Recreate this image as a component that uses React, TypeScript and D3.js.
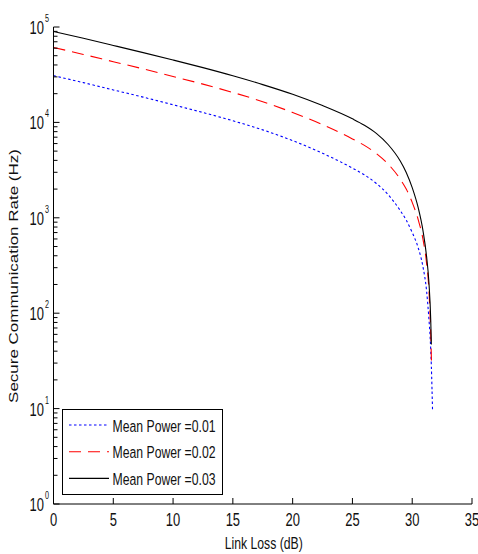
import React from "react";
import * as d3 from "d3";

// link loss (dB) samples and secure rate (Hz)
const blueX = [0, 2.5, 5, 7.5, 10, 12.5, 15, 17.5, 20, 22.5, 25, 26, 27, 28, 29, 29.5, 30, 30.5, 30.9, 31.2, 31.4, 31.5, 31.6, 31.7];
const blueY = [30900, 26100, 21900, 18400, 15300, 12700, 10400, 8350, 6440, 4750, 3320, 2820, 2290, 1740, 1190, 945, 701, 485, 306, 172, 86, 56, 28, 9.5];

const redX = [0, 2.5, 5, 7.5, 10, 12.5, 15, 17.5, 20, 22.5, 25, 26, 27, 28, 29, 29.5, 30, 30.5, 30.9, 31.2, 31.4, 31.55, 31.62];
const redY = [61100, 51600, 43300, 36400, 30300, 25200, 20600, 16500, 12700, 9470, 6710, 5740, 4720, 3640, 2540, 2000, 1450, 956, 596, 335, 172, 60, 28];

const blackX = [0, 2.5, 5, 7.5, 10, 12.5, 15, 17.5, 20, 22.5, 25, 26, 27, 28, 29, 29.5, 30, 30.5, 30.9, 31.2, 31.4, 31.55, 31.6];
const blackY = [89900, 76100, 64100, 53900, 45100, 37500, 30800, 24900, 19700, 15000, 10900, 9340, 7680, 5830, 3940, 2990, 2070, 1275, 734, 394, 207, 84, 47];

const seriesNames = ["Mean Power =0.01", "Mean Power =0.02", "Mean Power =0.03"];
const xTicks = [0, 5, 10, 15, 20, 25, 30, 35];
const yExponents = [0, 1, 2, 3, 4, 5];

const FONT = "'Liberation Sans', Arial, sans-serif";
const SX = 0.72; // the figure's text is squeezed horizontally

const App = () => {
  const left = 53.5;
  const right = 472;
  const top = 27;
  const bottom = 504;

  const xScale = d3.scaleLinear().domain([0, 35]).range([left, right]);
  const yScale = d3.scaleLog().domain([1, 1e5]).range([bottom, top]);

  const line = d3
    .line<[number, number]>()
    .x((d) => xScale(d[0]))
    .y((d) => yScale(d[1]))
    .curve(d3.curveMonotoneX);

  const series = [
    { xs: blueX, ys: blueY, color: "#0000ff", dash: "2.5,2.5" },
    { xs: redX, ys: redY, color: "#ff0000", dash: "12,7" },
    { xs: blackX, ys: blackY, color: "#000000", dash: null },
  ];

  const minorTicks: number[] = [];
  yExponents.slice(0, -1).forEach((e) => {
    for (let m = 2; m <= 9; m++) minorTicks.push(m * Math.pow(10, e));
  });

  const legend = { x: 62.5, y: 409.5, w: 160, h: 85 };

  return (
    <div style={{ position: "absolute", left: 0, top: 0 }}>
      <svg width={478} height={554} style={{ display: "block", background: "#fff" }}>
        {series.map((s, i) => (
          <path
            key={i}
            d={line(s.xs.map((x, j) => [x, s.ys[j]] as [number, number])) || ""}
            fill="none"
            stroke={s.color}
            strokeWidth={1.1}
            strokeDasharray={s.dash || undefined}
          />
        ))}

        {/* axes */}
        <line x1={left} y1={top} x2={left} y2={bottom} stroke="#000" />
        <line x1={left} y1={bottom} x2={right} y2={bottom} stroke="#000" />
        {xTicks.map((t) => (
          <g key={t}>
            <line x1={xScale(t)} y1={bottom} x2={xScale(t)} y2={bottom - 6} stroke="#000" />
            <text
              transform={`translate(${xScale(t)},${bottom + 22}) scale(${SX},1)`}
              textAnchor="middle"
              fontFamily={FONT}
              fontSize={18}
              fill="#111"
            >
              {t}
            </text>
          </g>
        ))}
        {yExponents.map((e) => {
          const y = yScale(Math.pow(10, e));
          return (
            <g key={e}>
              <line x1={left} y1={y} x2={left + 6} y2={y} stroke="#000" />
              <text
                transform={`translate(44,${y + 7}) scale(${SX},1)`}
                textAnchor="end"
                fontFamily={FONT}
                fontSize={18}
                fill="#111"
              >
                10
              </text>
              <text
                transform={`translate(45,${y - 5}) scale(${SX},1)`}
                fontFamily={FONT}
                fontSize={10}
                fill="#111"
              >
                {e}
              </text>
            </g>
          );
        })}
        {minorTicks.map((t) => (
          <line key={t} x1={left} y1={yScale(t)} x2={left + 4} y2={yScale(t)} stroke="#000" />
        ))}

        <text
          transform={`translate(${(left + right) / 2 + 1},549) scale(${SX},1)`}
          textAnchor="middle"
          fontFamily={FONT}
          fontSize={17}
          fill="#111"
        >
          Link Loss (dB)
        </text>
        <text
          transform={`translate(18,276) scale(${SX},1) rotate(-90)`}
          textAnchor="middle"
          fontFamily={FONT}
          fontSize={17}
          fill="#111"
        >
          Secure Communication Rate (Hz)
        </text>

        {/* legend */}
        <rect x={legend.x} y={legend.y} width={legend.w} height={legend.h} fill="#fff" stroke="#000" />
        {series.map((s, i) => {
          const y = 425 + i * 26.7;
          return (
            <g key={i}>
              <line
                x1={69}
                x2={109}
                y1={y}
                y2={y}
                stroke={s.color}
                strokeWidth={1.1}
                strokeDasharray={s.dash || undefined}
              />
              <text
                transform={`translate(112.5,${y + 6.5}) scale(${SX},1)`}
                fontFamily={FONT}
                fontSize={17}
                fill="#111"
              >
                {seriesNames[i]}
              </text>
            </g>
          );
        })}
      </svg>
    </div>
  );
};

export default App;
